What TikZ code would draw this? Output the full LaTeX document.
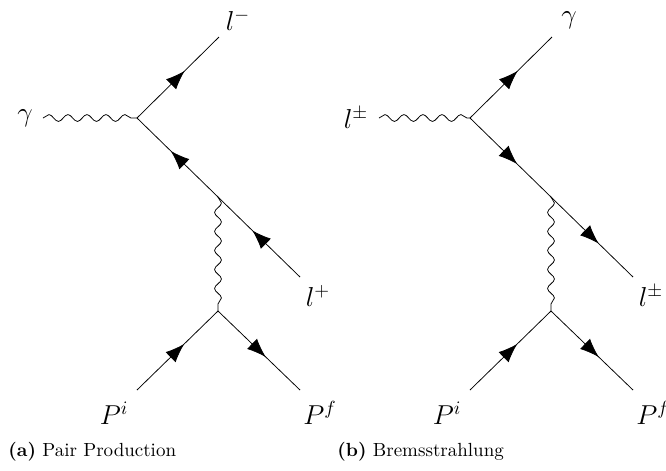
\documentclass[tikz,border=0pt]{standalone}
\usepackage{tikz}
\usetikzlibrary{arrows.meta,decorations.pathmorphing,decorations.markings}

\begin{document}
\begin{tikzpicture}[x=0.526pt, y=-0.526pt,
    fermion/.style={thin, postaction={decorate}, decoration={markings, mark=at position 0.5 with {\arrow[xshift=5pt]{Latex[length=10pt, width=7.5pt]}}}},
    photon/.style={thin, decorate, decoration={snake, amplitude=1.8pt, segment length=10pt}},
    particle/.style={font=\Large, inner sep=0pt},
    caption/.style={font=\normalsize, anchor=west, inner sep=0pt}
]
\useasboundingbox (0,0) rectangle (666,470);

% (a) Pair production - vertices and line ends
\coordinate (a-in) at (43,118);
\coordinate (a-v1) at (137,118);
\coordinate (a-out) at (219,37);
\coordinate (a-v2) at (218,197);
\coordinate (a-lp) at (300,277);
\coordinate (a-v3) at (218,311);
\coordinate (a-pi) at (137,390);
\coordinate (a-pf) at (300,390);

% (a) labels
\node[particle] (a-gamma) at (25,118) {$\gamma$};
\node[particle] (a-lminus) at (238,20) {$l^-$};
\node[particle] (a-lplus) at (318,296) {$l^+$};
\node[particle] (a-Pi) at (114,413) {$P^i$};
\node[particle] (a-Pf) at (320,413) {$P^f$};

% (a) lines
\draw[photon] (a-in) -- (a-v1);
\draw[fermion] (a-v1) -- (a-out);
\draw[fermion] (a-v2) -- (a-v1);
\draw[fermion] (a-lp) -- (a-v2);
\draw[photon] (a-v2) -- (a-v3);
\draw[fermion] (a-pi) -- (a-v3);
\draw[fermion] (a-v3) -- (a-pf);

% (b) Bremsstrahlung - vertices and line ends
\coordinate (b-in) at (379,118);
\coordinate (b-v1) at (470,118);
\coordinate (b-out) at (552,37);
\coordinate (b-v2) at (551,197);
\coordinate (b-lpm) at (633,277);
\coordinate (b-v3) at (551,311);
\coordinate (b-pi) at (470,390);
\coordinate (b-pf) at (633,390);

% (b) labels
\node[particle] (b-lin) at (356,118) {$l^\pm$};
\node[particle] (b-gamma) at (569,20) {$\gamma$};
\node[particle] (b-lout) at (651,296) {$l^\pm$};
\node[particle] (b-Pi) at (447,413) {$P^i$};
\node[particle] (b-Pf) at (653,413) {$P^f$};

% (b) lines
\draw[photon] (b-in) -- (b-v1);
\draw[fermion] (b-v1) -- (b-out);
\draw[fermion] (b-v1) -- (b-v2);
\draw[fermion] (b-v2) -- (b-lpm);
\draw[photon] (b-v2) -- (b-v3);
\draw[fermion] (b-pi) -- (b-v3);
\draw[fermion] (b-v3) -- (b-pf);

% captions
\node[caption] (a-cap) at (8,452) {\textbf{(a)} Pair Production};
\node[caption] (b-cap) at (337,452) {\textbf{(b)} Bremsstrahlung};

\end{tikzpicture}
\end{document}
